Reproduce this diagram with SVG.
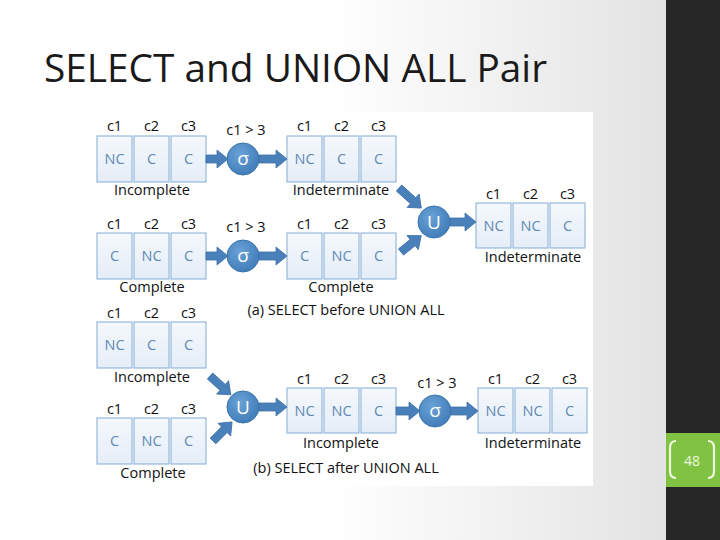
<svg xmlns="http://www.w3.org/2000/svg" width="720" height="540" viewBox="0 0 720 540">
<defs>
  <linearGradient id="bg" x1="0" y1="0" x2="666" y2="0" gradientUnits="userSpaceOnUse">
    <stop offset="0" stop-color="#ffffff"/>
    <stop offset="0.5" stop-color="#ffffff"/>
    <stop offset="1" stop-color="#e3e3e3"/>
  </linearGradient>
  <linearGradient id="boxg" x1="0" y1="0" x2="0" y2="1">
    <stop offset="0" stop-color="#f5f8fc"/>
    <stop offset="1" stop-color="#e4edf7"/>
  </linearGradient>
  <radialGradient id="opg" cx="0.4" cy="0.35" r="0.7">
    <stop offset="0" stop-color="#6aa2d6"/>
    <stop offset="1" stop-color="#3f7bb8"/>
  </radialGradient>
  <style>
    .box{fill:url(#boxg);stroke:#8fb3d9;stroke-width:1.1}
    .cell{font-family:"Open Sans","Liberation Sans",sans-serif;font-size:14.5px;fill:#6189b5;text-anchor:middle}
    .lbl{font-family:"Open Sans","Liberation Sans",sans-serif;font-size:14.5px;fill:#111;text-anchor:middle}
    .op{fill:url(#opg);stroke:#3a74ae;stroke-width:1}
    .opt{font-family:"Open Sans","DejaVu Sans",sans-serif;font-size:19px;fill:#ffffff;text-anchor:middle}
    .arr{fill:#4a80ba;stroke:#3d6fa6;stroke-width:0.8}
  </style>
</defs>
<rect x="0" y="0" width="720" height="540" fill="url(#bg)"/>
<text x="44" y="82" font-family="'Open Sans',Lato,sans-serif" font-size="38" fill="#1a1a1a" textLength="503" lengthAdjust="spacingAndGlyphs">SELECT and UNION ALL Pair</text>
<rect x="666" y="0" width="54" height="540" fill="#272727"/>
<rect x="666" y="433" width="54" height="54" fill="#80c342"/>
<path d="M676,441 Q670,441 670,448 V471 Q670,478 676,478" fill="none" stroke="#eef7e0" stroke-width="2.2"/>
<path d="M708,441 Q714,441 714,448 V471 Q714,478 708,478" fill="none" stroke="#eef7e0" stroke-width="2.2"/>
<text x="692" y="466" font-family="'Open Sans','Liberation Sans',sans-serif" font-size="14" fill="#eef7e0" text-anchor="middle">48</text>
<rect x="92" y="112" width="501" height="374" fill="#ffffff"/>

<g id="T1">
  <rect class="box" x="97" y="136" width="35" height="46"/><rect class="box" x="134" y="136" width="35" height="46"/><rect class="box" x="171" y="136" width="35" height="46"/>
  <text class="lbl" x="114.5" y="131">c1</text><text class="lbl" x="151.5" y="131">c2</text><text class="lbl" x="188.5" y="131">c3</text>
  <text class="cell" x="114.5" y="164">NC</text><text class="cell" x="151.5" y="164">C</text><text class="cell" x="188.5" y="164">C</text>
  <text class="lbl" x="152" y="195">Incomplete</text>
</g>
<g id="S1">
  <text class="lbl" x="246" y="135">c1 &gt; 3</text>
  <circle class="op" cx="243" cy="159" r="16"/><text class="opt" x="243" y="165">σ</text>
</g>
<g id="T2">
  <rect class="box" x="287" y="136" width="35" height="46"/><rect class="box" x="324" y="136" width="35" height="46"/><rect class="box" x="361" y="136" width="35" height="46"/>
  <text class="lbl" x="304.5" y="131">c1</text><text class="lbl" x="341.5" y="131">c2</text><text class="lbl" x="378.5" y="131">c3</text>
  <text class="cell" x="304.5" y="164">NC</text><text class="cell" x="341.5" y="164">C</text><text class="cell" x="378.5" y="164">C</text>
  <text class="lbl" x="341" y="195">Indeterminate</text>
</g>
<g id="T3">
  <rect class="box" x="97" y="233" width="35" height="46"/><rect class="box" x="134" y="233" width="35" height="46"/><rect class="box" x="171" y="233" width="35" height="46"/>
  <text class="lbl" x="114.5" y="229">c1</text><text class="lbl" x="151.5" y="229">c2</text><text class="lbl" x="188.5" y="229">c3</text>
  <text class="cell" x="114.5" y="261">C</text><text class="cell" x="151.5" y="261">NC</text><text class="cell" x="188.5" y="261">C</text>
  <text class="lbl" x="152" y="292">Complete</text>
</g>
<g id="S2">
  <text class="lbl" x="246" y="232">c1 &gt; 3</text>
  <circle class="op" cx="243" cy="256" r="16"/><text class="opt" x="243" y="262">σ</text>
</g>
<g id="T4">
  <rect class="box" x="287" y="233" width="35" height="46"/><rect class="box" x="324" y="233" width="35" height="46"/><rect class="box" x="361" y="233" width="35" height="46"/>
  <text class="lbl" x="304.5" y="229">c1</text><text class="lbl" x="341.5" y="229">c2</text><text class="lbl" x="378.5" y="229">c3</text>
  <text class="cell" x="304.5" y="261">C</text><text class="cell" x="341.5" y="261">NC</text><text class="cell" x="378.5" y="261">C</text>
  <text class="lbl" x="341" y="292">Complete</text>
</g>
<g id="U1">
  <circle class="op" cx="434" cy="222" r="16"/><text class="opt" x="434" y="229">U</text>
</g>
<g id="T5">
  <rect class="box" x="476" y="203" width="35" height="45"/><rect class="box" x="513" y="203" width="35" height="45"/><rect class="box" x="550" y="203" width="35" height="45"/>
  <text class="lbl" x="493.5" y="199">c1</text><text class="lbl" x="530.5" y="199">c2</text><text class="lbl" x="567.5" y="199">c3</text>
  <text class="cell" x="493.5" y="231">NC</text><text class="cell" x="530.5" y="231">NC</text><text class="cell" x="567.5" y="231">C</text>
  <text class="lbl" x="533" y="262">Indeterminate</text>
</g>
<text class="lbl" x="346" y="315">(a) SELECT before UNION ALL</text>

<g id="T6">
  <rect class="box" x="97" y="322" width="35" height="46"/><rect class="box" x="134" y="322" width="35" height="46"/><rect class="box" x="171" y="322" width="35" height="46"/>
  <text class="lbl" x="114.5" y="318">c1</text><text class="lbl" x="151.5" y="318">c2</text><text class="lbl" x="188.5" y="318">c3</text>
  <text class="cell" x="114.5" y="350">NC</text><text class="cell" x="151.5" y="350">C</text><text class="cell" x="188.5" y="350">C</text>
  <text class="lbl" x="152" y="382">Incomplete</text>
</g>
<g id="T7">
  <rect class="box" x="97" y="418" width="35" height="46"/><rect class="box" x="134" y="418" width="35" height="46"/><rect class="box" x="171" y="418" width="35" height="46"/>
  <text class="lbl" x="114.5" y="414">c1</text><text class="lbl" x="151.5" y="414">c2</text><text class="lbl" x="188.5" y="414">c3</text>
  <text class="cell" x="114.5" y="446">C</text><text class="cell" x="151.5" y="446">NC</text><text class="cell" x="188.5" y="446">C</text>
  <text class="lbl" x="153" y="478">Complete</text>
</g>
<g id="U2">
  <circle class="op" cx="243" cy="407" r="16"/><text class="opt" x="243" y="414">U</text>
</g>
<g id="T8">
  <rect class="box" x="287" y="388" width="35" height="45"/><rect class="box" x="324" y="388" width="35" height="45"/><rect class="box" x="361" y="388" width="35" height="45"/>
  <text class="lbl" x="304.5" y="384">c1</text><text class="lbl" x="341.5" y="384">c2</text><text class="lbl" x="378.5" y="384">c3</text>
  <text class="cell" x="304.5" y="416">NC</text><text class="cell" x="341.5" y="416">NC</text><text class="cell" x="378.5" y="416">C</text>
  <text class="lbl" x="341" y="448">Incomplete</text>
</g>
<g id="S3">
  <text class="lbl" x="437" y="388">c1 &gt; 3</text>
  <circle class="op" cx="435" cy="411" r="16"/><text class="opt" x="435" y="417">σ</text>
</g>
<g id="T9">
  <rect class="box" x="478" y="388" width="35" height="45"/><rect class="box" x="515" y="388" width="35" height="45"/><rect class="box" x="552" y="388" width="35" height="45"/>
  <text class="lbl" x="495.5" y="384">c1</text><text class="lbl" x="532.5" y="384">c2</text><text class="lbl" x="569.5" y="384">c3</text>
  <text class="cell" x="495.5" y="416">NC</text><text class="cell" x="532.5" y="416">NC</text><text class="cell" x="569.5" y="416">C</text>
  <text class="lbl" x="533" y="448">Indeterminate</text>
</g>
<text class="lbl" x="346" y="473">(b) SELECT after UNION ALL</text>

<g id="connectors">
  <path class="arr" transform="translate(206,159)" d="M0,-4 H11 V-9 L22,0 L11,9 V4 H0 Z"/>
  <path class="arr" transform="translate(259,159)" d="M0,-4 H17 V-9 L28,0 L17,9 V4 H0 Z"/>
  <path class="arr" transform="translate(206,256)" d="M0,-4 H11 V-9 L22,0 L11,9 V4 H0 Z"/>
  <path class="arr" transform="translate(259,256)" d="M0,-4 H17 V-9 L28,0 L17,9 V4 H0 Z"/>
  <path class="arr" transform="translate(399,188) rotate(42)" d="M0,-4 H19 V-9 L30,0 L19,9 V4 H0 Z"/>
  <path class="arr" transform="translate(401,252) rotate(-39)" d="M0,-4 H15 V-9 L26,0 L15,9 V4 H0 Z"/>
  <path class="arr" transform="translate(450,222)" d="M0,-4 H15 V-9 L26,0 L15,9 V4 H0 Z"/>
  <path class="arr" transform="translate(210,376) rotate(42)" d="M0,-4 H17 V-9 L28,0 L17,9 V4 H0 Z"/>
  <path class="arr" transform="translate(213,441) rotate(-45)" d="M0,-4 H16 V-9 L27,0 L16,9 V4 H0 Z"/>
  <path class="arr" transform="translate(259,407)" d="M0,-4 H17 V-9 L28,0 L17,9 V4 H0 Z"/>
  <path class="arr" transform="translate(396,411)" d="M0,-4 H13 V-9 L24,0 L13,9 V4 H0 Z"/>
  <path class="arr" transform="translate(451,411)" d="M0,-4 H16 V-9 L27,0 L16,9 V4 H0 Z"/>
</g>
</svg>
